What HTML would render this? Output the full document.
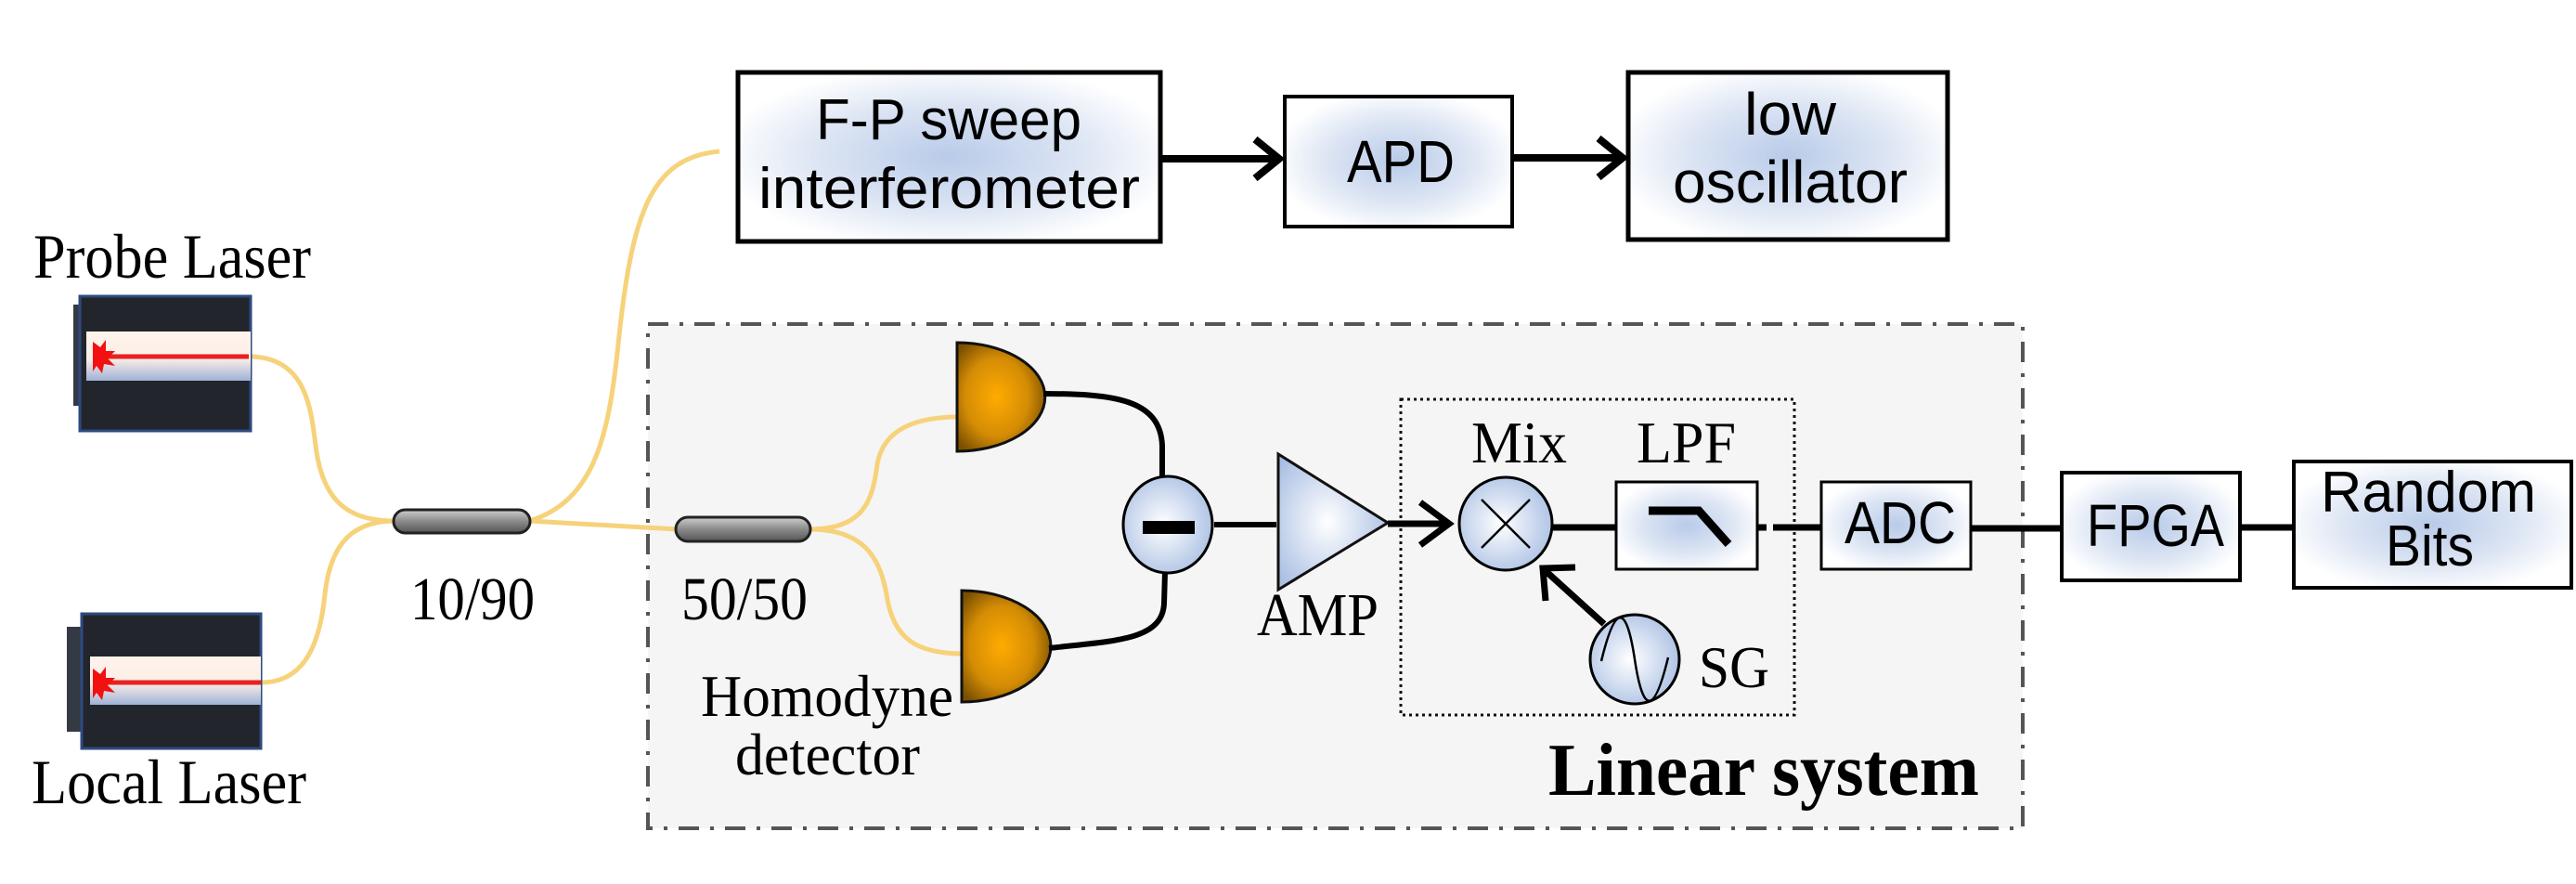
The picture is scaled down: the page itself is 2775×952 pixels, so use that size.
<!DOCTYPE html>
<html><head><meta charset="utf-8"><style>
html,body{margin:0;padding:0;background:#fff;}
svg{display:block;}
.s{font-family:"Liberation Sans",sans-serif;}
.t{font-family:"Liberation Serif",serif;}
</style></head><body>
<svg width="2775" height="952" viewBox="0 0 2775 952" xmlns="http://www.w3.org/2000/svg">
<defs>
<radialGradient id="bg" cx="50%" cy="50%" r="55%">
<stop offset="0" stop-color="#b9cbe9"/><stop offset="0.55" stop-color="#dbe4f3"/><stop offset="1" stop-color="#fff"/></radialGradient>
<radialGradient id="au" cx="45%" cy="50%" r="60%">
<stop offset="0" stop-color="#ffab00"/><stop offset="0.6" stop-color="#d48c05"/><stop offset="1" stop-color="#7a5000"/></radialGradient>
<radialGradient id="amp" cx="45%" cy="50%" r="60%">
<stop offset="0" stop-color="#ffffff"/><stop offset="1" stop-color="#a9bfe3"/></radialGradient>
<linearGradient id="band" x1="0" y1="0" x2="0" y2="1">
<stop offset="0" stop-color="#fff3ea"/><stop offset="0.55" stop-color="#fbeee8"/><stop offset="1" stop-color="#9fb2d6"/></linearGradient>
<linearGradient id="cp" x1="0" y1="0" x2="0" y2="1">
<stop offset="0" stop-color="#cfcfcf"/><stop offset="0.5" stop-color="#8a8a8a"/><stop offset="1" stop-color="#555"/></linearGradient>
</defs>

<rect x="698" y="349" width="1481" height="543" fill="#f5f5f5" stroke="#555" stroke-width="4" stroke-dasharray="22,12,4,12"/>

<g fill="none" stroke="#f6d27a" stroke-width="5">
<path d="M268,384 C330,384 335,440 340,480 C348,545 380,561 426,561"/>
<path d="M281,735 C330,735 345,690 350,640 C356,585 380,561 426,561"/>
<path d="M570,561 L730,570"/>
<path d="M570,561 C640,540 655,470 665,380 C680,230 700,170 775,163"/>
<path d="M872,570 C930,570 940,540 945,500 C952,460 990,449 1033,449"/>
<path d="M872,570 C930,570 948,600 955,640 C962,690 990,704 1038,704"/>
</g>

<rect x="79" y="328" width="14" height="109" fill="#333a44"/>
<rect x="86" y="319" width="184" height="145" fill="#22252b" stroke="#2d4a80" stroke-width="3"/>
<rect x="93" y="357" width="177" height="53" fill="url(#band)"/>
<line x1="100" y1="384" x2="268" y2="384" stroke="#e82020" stroke-width="5"/>
<polygon points="100,368 108,374 114,366 114,378 124,378 116,386 124,394 112,392 110,402 104,394 100,400" fill="#f21010"/>

<rect x="72" y="675" width="17" height="113" fill="#333a44"/>
<rect x="88" y="661" width="193" height="145" fill="#22252b" stroke="#2d4a80" stroke-width="3"/>
<rect x="97" y="707" width="184" height="52" fill="url(#band)"/>
<line x1="100" y1="735" x2="281" y2="735" stroke="#e82020" stroke-width="5"/>
<polygon points="100,720 108,726 114,718 114,730 124,730 116,738 124,746 112,744 110,754 104,746 100,752" fill="#f21010"/>

<text x="36" y="299" class="t" font-size="68" textLength="299" lengthAdjust="spacingAndGlyphs">Probe Laser</text>
<text x="34" y="865" class="t" font-size="68" textLength="296" lengthAdjust="spacingAndGlyphs">Local Laser</text>

<rect x="424" y="549" width="147" height="25" rx="12.5" fill="url(#cp)" stroke="#222" stroke-width="3"/>
<rect x="728" y="557" width="145" height="26" rx="13" fill="url(#cp)" stroke="#222" stroke-width="3"/>
<text x="442" y="667" class="t" font-size="66" textLength="134" lengthAdjust="spacingAndGlyphs">10/90</text>
<text x="734" y="667" class="t" font-size="66" textLength="136" lengthAdjust="spacingAndGlyphs">50/50</text>

<path d="M1031,369 A94,58 0 0 1 1031,486 Z" fill="url(#au)" stroke="#111" stroke-width="3"/>
<path d="M1036,636 A96,60 0 0 1 1036,756 Z" fill="url(#au)" stroke="#111" stroke-width="3"/>
<text x="755" y="771" class="t" font-size="64" textLength="272" lengthAdjust="spacingAndGlyphs">Homodyne</text>
<text x="792" y="834" class="t" font-size="64" textLength="199" lengthAdjust="spacingAndGlyphs">detector</text>

<g fill="none" stroke="#000" stroke-width="6">
<path d="M1124,424 C1200,424 1250,430 1252,480 L1252,514"/>
<path d="M1130,698 C1200,690 1252,690 1254,650 L1255,616"/>
<line x1="1308" y1="565" x2="1375" y2="565"/>
</g>
<ellipse cx="1258" cy="565" rx="48" ry="52" fill="url(#amp)" stroke="#000" stroke-width="3"/>
<rect x="1231" y="561" width="56" height="14" fill="#000"/>

<polygon points="1377,489 1377,635 1495,563" fill="url(#amp)" stroke="#111" stroke-width="3"/>
<text x="1354" y="684" class="t" font-size="66" textLength="131" lengthAdjust="spacingAndGlyphs">AMP</text>

<rect x="1509" y="430" width="424" height="340" fill="none" stroke="#111" stroke-width="3" stroke-dasharray="3,4"/>

<g stroke="#000" stroke-width="7" fill="none">
<line x1="1495" y1="564" x2="1562" y2="564"/>
<polyline points="1530,541 1561,564 1530,587"/>
</g>
<circle cx="1622" cy="564" r="50" fill="url(#amp)" stroke="#000" stroke-width="3"/>
<line x1="1596" y1="538" x2="1648" y2="590" stroke="#000" stroke-width="2.5"/>
<line x1="1648" y1="538" x2="1596" y2="590" stroke="#000" stroke-width="2.5"/>
<text x="1585" y="498" class="t" font-size="64" textLength="103" lengthAdjust="spacingAndGlyphs">Mix</text>

<line x1="1672" y1="568" x2="1741" y2="568" stroke="#000" stroke-width="7"/>
<rect x="1741" y="519" width="152" height="94" fill="url(#bg)" stroke="#000" stroke-width="3"/>
<polyline points="1776,550 1830,550 1862,586" fill="none" stroke="#000" stroke-width="9"/>
<text x="1763" y="498" class="t" font-size="64" textLength="107" lengthAdjust="spacingAndGlyphs">LPF</text>

<circle cx="1761" cy="710" r="48" fill="url(#amp)" stroke="#000" stroke-width="3"/>
<path d="M1725,712 C1740,650 1752,650 1761,710 C1770,770 1782,770 1797,708" fill="none" stroke="#000" stroke-width="2.5"/>
<text x="1830" y="740" class="t" font-size="64" textLength="76" lengthAdjust="spacingAndGlyphs">SG</text>
<g stroke="#000" stroke-width="7" fill="none">
<line x1="1728" y1="672" x2="1664" y2="614"/>
<polyline points="1665,647 1662,612 1697,611"/>
</g>

<g stroke="#000" stroke-width="7">
<line x1="1893" y1="568" x2="1903" y2="568"/>
<line x1="1910" y1="568" x2="1962" y2="568"/>
<line x1="2123" y1="569" x2="2221" y2="569"/>
<line x1="2413" y1="568" x2="2471" y2="568"/>
</g>
<rect x="1962" y="519" width="161" height="94" fill="url(#bg)" stroke="#000" stroke-width="3"/>
<text x="1987" y="585" class="s" font-size="64" textLength="120" lengthAdjust="spacingAndGlyphs">ADC</text>
<rect x="2221" y="509" width="192" height="116" fill="url(#bg)" stroke="#000" stroke-width="4"/>
<text x="2248" y="588" class="s" font-size="64" textLength="148" lengthAdjust="spacingAndGlyphs">FPGA</text>
<rect x="2471" y="497" width="299" height="136" fill="url(#bg)" stroke="#000" stroke-width="4"/>
<text x="2500" y="551" class="s" font-size="62" textLength="232" lengthAdjust="spacingAndGlyphs">Random</text>
<text x="2570" y="609" class="s" font-size="62" textLength="95" lengthAdjust="spacingAndGlyphs">Bits</text>

<text x="1668" y="856" class="t" font-size="80" font-weight="bold" textLength="464" lengthAdjust="spacingAndGlyphs">Linear system</text>

<rect x="795" y="78" width="455" height="182" fill="url(#bg)" stroke="#000" stroke-width="5"/>
<text x="879" y="150" class="s" font-size="62" textLength="286" lengthAdjust="spacingAndGlyphs">F-P sweep</text>
<text x="817" y="224" class="s" font-size="62" textLength="411" lengthAdjust="spacingAndGlyphs">interferometer</text>
<rect x="1384" y="104" width="245" height="140" fill="url(#bg)" stroke="#000" stroke-width="4"/>
<text x="1451" y="196" class="s" font-size="64" textLength="116" lengthAdjust="spacingAndGlyphs">APD</text>
<rect x="1754" y="78" width="344" height="180" fill="url(#bg)" stroke="#000" stroke-width="5"/>
<text x="1879" y="145" class="s" font-size="64" textLength="99" lengthAdjust="spacingAndGlyphs">low</text>
<text x="1802" y="218" class="s" font-size="64" textLength="253" lengthAdjust="spacingAndGlyphs">oscillator</text>
<g stroke="#000" stroke-width="8" fill="none">
<line x1="1250" y1="171" x2="1378" y2="171"/>
<polyline points="1352,150 1378,171 1352,192"/>
<line x1="1629" y1="170" x2="1748" y2="170"/>
<polyline points="1722,149 1748,170 1722,191"/>
</g>
</svg>
</body></html>
